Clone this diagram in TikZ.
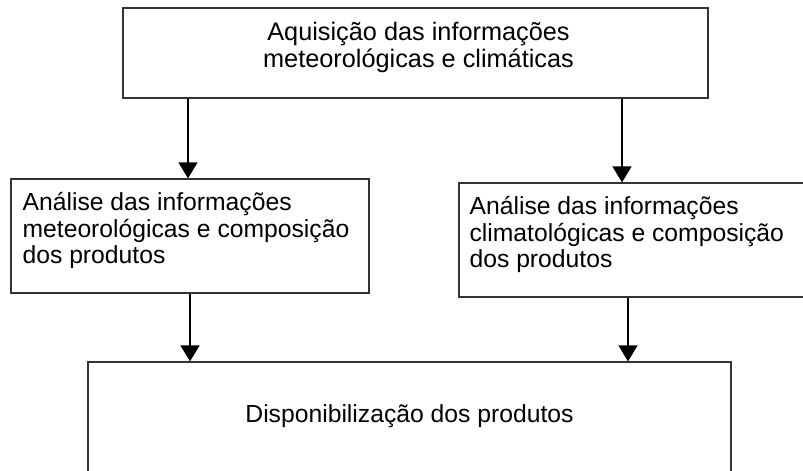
\documentclass[tikz,border=0pt]{standalone}
\usepackage{fontspec}
\setmainfont{Liberation Sans}
\usetikzlibrary{arrows.meta}
\usetikzlibrary{positioning}

\begin{document}
\begin{tikzpicture}[x=1pt,y=-1pt,
    >={Triangle[length=16pt,width=19pt]},
    frame/.style={draw=black!80, line width=1.2pt, rectangle, inner sep=0pt},
    txt/.style={inner sep=0pt, font=\fontsize{24.7}{26.5}\selectfont},
    ]
\useasboundingbox (0,0) rectangle (803,471);
% boxes
\node[frame, minimum width=585, minimum height=90] (acq) at (415.5,53) {};
\node[frame, minimum width=358, minimum height=114] (metbox) at (190,236) {};
\node[frame, minimum width=371, minimum height=114] (clibox) at (644.5,240) {};
\node[frame, minimum width=643, minimum height=138] (disp) at (409.5,431) {};
% texts
\node[txt, font=\fontsize{25.3}{27}\selectfont, align=center, anchor=north] (acqtxt)
    at ([xshift=3,yshift=-15]acq.north)
    {Aquisição das informações\\meteorológicas e climáticas};
\node[txt, align=left, anchor=north west] (mettxt) at ([xshift=12,yshift=-14]metbox.north west)
    {Análise das informações\\meteorológicas e composição\\dos produtos};
\node[txt, align=left, anchor=north west] (clitxt) at ([xshift=11,yshift=-14]clibox.north west)
    {Análise das informações\\climatológicas e composição\\dos produtos};
\node[txt, anchor=base] (disptxt) at ([yshift=-61]disp.north) {Disponibilização dos produtos};
% arrows
\draw[->, line width=1.3pt] ([xshift=-2]metbox.north |- acq.south) -- ([xshift=-2]metbox.north);
\draw[->, line width=1.3pt] ([xshift=-22.5]clibox.north |- acq.south) -- ([xshift=-22.5]clibox.north);
\draw[->, line width=1.3pt] (metbox.south) -- (metbox.south |- disp.north);
\draw[->, line width=1.3pt] ([xshift=-16.5]clibox.south) -- ([xshift=-16.5]clibox.south |- disp.north);
\end{tikzpicture}
\end{document}
